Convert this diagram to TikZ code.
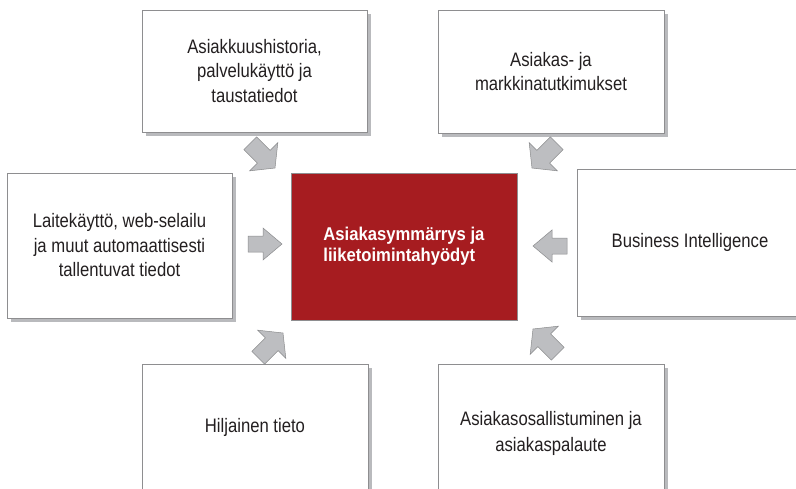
\documentclass[tikz,border=0pt]{standalone}
\usepackage{fontspec}
\setmainfont{Liberation Sans}[FakeStretch=0.855]
\newfontfamily\corefont{Liberation Sans}[FakeStretch=0.9]
\usetikzlibrary{shadows}
\definecolor{coreRed}{HTML}{A61C20}
\definecolor{shadowGrey}{HTML}{B9BABD}
\definecolor{edgeGrey}{HTML}{8E8E90}
\definecolor{arrowGrey}{HTML}{BDBEC1}
\definecolor{arrowEdge}{HTML}{8A8B8D}
\definecolor{inkText}{HTML}{231F20}
\begin{document}
\begin{tikzpicture}[x=1pt,y=-1pt,
  source/.style={draw=edgeGrey, line width=0.7pt, fill=white, inner sep=0pt,
    text=inkText, align=center, font=\fontsize{19.5}{24.5}\selectfont,
    drop shadow={shadow xshift=4pt, shadow yshift=-4pt, fill=shadowGrey, opacity=1}},
  corebox/.style={draw=edgeGrey, line width=0.5pt, fill=coreRed, inner sep=0pt,
    text=white, align=left, font=\corefont\bfseries\fontsize{18.5}{21}\selectfont,
    minimum width=226pt, minimum height=147pt},
  arrowbody/.style={fill=arrowGrey, draw=arrowEdge, line width=0.5pt, line join=miter},
  pics/flowarrow/.style={code={
    \draw[arrowbody] (-17,-8) -- (-2,-8) -- (-2,-16) -- (17,0) -- (-2,16) -- (-2,8) -- (-17,8) -- cycle;}},
  pics/slantarrow/.style={code={
    \draw[arrowbody] (-18,-9) -- (1,-9) -- (1,-20) -- (17,0) -- (1,20) -- (1,9) -- (-18,9) -- cycle;}}
]
\useasboundingbox (0,0) rectangle (796,488);
\clip (0,0) rectangle (796,488);

% source boxes
\node[source, minimum width=225pt, minimum height=122pt] (hist) at (254.5,71)
  {Asiakkuushistoria,\\palvelukäyttö ja\\taustatiedot};
\node[source, minimum width=226pt, minimum height=123pt] (survey) at (551,71.5)
  {Asiakas- ja\\markkinatutkimukset};
\node[source, minimum width=225pt, minimum height=145pt] (device) at (119.5,245.5)
  {Laitekäyttö, web-selailu\\ja muut automaattisesti\\tallentuvat tiedot};
\node[source, minimum width=226pt, minimum height=147pt] (bi) at (690,242.5)
  {Business Intelligence};
\node[source, minimum width=226pt, minimum height=140pt] (tacit) at (255,434)
  {\raisebox{17pt}{Hiljainen tieto}};
\node[source, minimum width=226pt, minimum height=140pt] (feedback) at (551,434)
  {\raisebox{17pt}{\begin{tabular}{@{}c@{}}Asiakasosallistuminen ja\\[1.5pt]asiakaspalaute\end{tabular}}};

% central box
\node[corebox] (core) at (404,246.5)
  {\begin{tabular}{@{}l@{}}Asiakasymmärrys ja\\liiketoimintahyödyt\end{tabular}};

% block arrows pointing into the central box
\pic[rotate=0] at (265,244) {flowarrow};
\pic[rotate=180] at (550,246) {flowarrow};
\pic[rotate=-45] at (263,156) {slantarrow};
\pic[rotate=-135] at (544,156) {slantarrow};
\pic[rotate=45] at (271,345) {slantarrow};
\pic[rotate=135] at (545,341) {slantarrow};
\end{tikzpicture}
\end{document}
